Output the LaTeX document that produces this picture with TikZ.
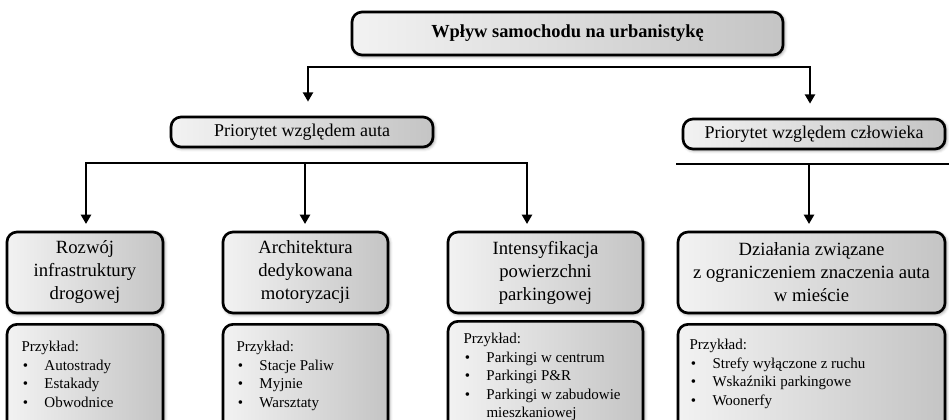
\documentclass[tikz,border=0pt]{standalone}
\usepackage{fontspec}
\setmainfont{Liberation Serif}
\usetikzlibrary{arrows.meta,shadows.blur}

\tikzset{every picture/.style={line width=0.75pt}}
\tikzset{
  box/.style={draw=black, line width=2pt, rounded corners=7.5pt,
    left color=gray!10, right color=gray!46,
    blur shadow={shadow xshift=1pt, shadow yshift=-1pt, shadow blur radius=2.5pt, shadow opacity=45},
    inner sep=0pt, align=center},
  boxwh/.style 2 args={minimum width=#1*0.75pt, minimum height=#2*0.75pt},
  bar/.style={line width=2.2pt, line cap=rect},
  arr/.style={line width=2.2pt, -{Triangle[length=7pt,width=7.5pt]}},
  titletxt/.style={font=\fontsize{13.8}{16}\selectfont\bfseries},
  midtxt/.style={font=\fontsize{13.5}{16}\selectfont},
  areatxt/.style={font=\fontsize{14}{17.25}\selectfont},
  extxt/.style={font=\fontsize{11.25}{13.8}\selectfont, align=left, inner sep=0pt, anchor=north west},
}
\newcommand{\pkt}{\makebox[17.25pt][l]{\hspace{1pt}\textbullet}}

\begin{document}
\begin{tikzpicture}[x=0.75pt,y=0.75pt,yscale=-1,xscale=1]
\useasboundingbox (0,0) rectangle (949,419);

%Shape: Rounded Rect [title]
\node[box, boxwh={431}{43}, titletxt] (title) at (567.5,33.5) {Wpływ samochodu na urbanistykę};

%Shape: Rounded Rect [priorities]
\node[box, boxwh={262}{30}, midtxt] (autoP) at (302,132) {Priorytet względem auta};
\node[box, boxwh={262}{30}, midtxt] (humanP) at (814,134) {Priorytet względem człowieka};

%Shape: Rounded Rect [areas]
\node[box, boxwh={156}{81}, areatxt] (infra) at (85,272.5) {Rozwój\\infrastruktury\\drogowej};
\node[box, boxwh={165}{81}, areatxt] (archi) at (305.5,272.5) {Architektura\\dedykowana\\motoryzacji};
\node[box, boxwh={195}{81}, areatxt] (park) at (545.5,272.5) {Intensyfikacja\\powierzchni\\parkingowej};
\node[box, boxwh={267}{81}, areatxt] (limit) at (811.5,272.5) {Działania związane\\z ograniczeniem znaczenia auta\\w mieście};

%Shape: Rounded Rect [examples]
\node[box, boxwh={156}{110}, anchor=north] (infraEx) at (85,323) {};
\node[box, boxwh={165}{110}, anchor=north] (archiEx) at (305.5,323) {};
\node[box, boxwh={195}{110}, anchor=north] (parkEx) at (545.5,320) {};
\node[box, boxwh={267}{110}, anchor=north] (limitEx) at (811.5,323) {};

% Text Node
\node[extxt] (infraTxt) at (21,341) {Przykład:\\\pkt Autostrady\\\pkt Estakady\\\pkt Obwodnice};
% Text Node
\node[extxt] (archiTxt) at (236,341) {Przykład:\\\pkt Stacje Paliw\\\pkt Myjnie\\\pkt Warsztaty};
% Text Node
\node[extxt] (parkTxt) at (463,333) {Przykład:\\\pkt Parkingi w centrum\\\pkt Parkingi P\&R\\\pkt Parkingi w zabudowie\\\hspace*{17.25pt}mieszkaniowej};
% Text Node
\node[extxt] (limitTxt) at (689,339) {Przykład:\\\pkt Strefy wyłączone z ruchu\\\pkt Wskaźniki parkingowe\\\pkt Woonerfy};

%Straight Lines [bars]
\coordinate (topL) at (308,67);
\coordinate (topR) at (810,67);
\coordinate (autoL) at (86,163);
\coordinate (autoM) at (305,163);
\coordinate (autoR) at (527,163);
\coordinate (humanL) at (677,164);
\coordinate (humanM) at (809,164);
\coordinate (humanR) at (949,164);
\draw[bar] (topL) -- (topR);
\draw[bar] (autoL) -- (autoR);
\draw[bar] (humanL) -- (humanR);

%Straight Lines [arrows]
\draw[arr, shorten >=10.5pt] (topL) -- (topL |- autoP.north);
\draw[arr, shorten >=10.5pt] (topR) -- (topR |- humanP.north);
\draw[arr, shorten >=5pt] (autoL) -- (autoL |- infra.north);
\draw[arr, shorten >=5pt] (autoM) -- (autoM |- archi.north);
\draw[arr, shorten >=5pt] (autoR) -- (autoR |- park.north);
\draw[arr, shorten >=5pt] (humanM) -- (humanM |- limit.north);

\end{tikzpicture}
\end{document}
